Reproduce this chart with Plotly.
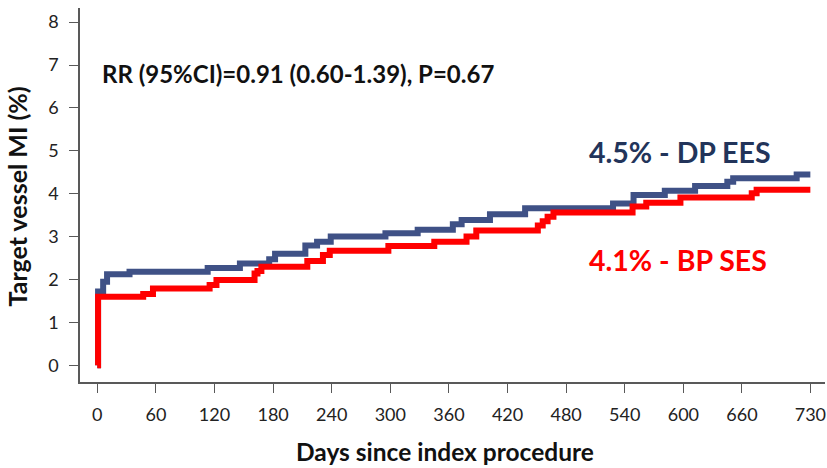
import plotly.graph_objects as go

# DP EES (blue) step data
dp_days = [0, 0.8, 6, 10, 33, 113, 146, 176, 182, 213, 225, 239, 295, 328, 364, 373, 402, 438, 528, 549, 581, 612, 645, 651, 716, 730]
dp_vals = [0, 1.72, 1.95, 2.12, 2.18, 2.27, 2.37, 2.47, 2.6, 2.79, 2.88, 3.0, 3.08, 3.16, 3.29, 3.39, 3.52, 3.66, 3.77, 3.97, 4.07, 4.18, 4.28, 4.36, 4.45, 4.45]

# BP SES (red) step data
bp_days = [0, 0.8, 47, 57, 115, 122, 161, 164, 168, 215, 231, 238, 298, 345, 378, 388, 451, 456, 461, 467, 548, 562, 597, 670, 675, 730]
bp_vals = [0, 1.6, 1.66, 1.79, 1.87, 1.99, 2.14, 2.2, 2.3, 2.43, 2.57, 2.67, 2.78, 2.88, 3.0, 3.14, 3.26, 3.36, 3.46, 3.56, 3.7, 3.79, 3.91, 4.01, 4.09, 4.09]

x_ticks = [0, 60, 120, 180, 240, 300, 360, 420, 480, 540, 600, 660, 730]
y_ticks = [0, 1, 2, 3, 4, 5, 6, 7, 8]

BLUE = "#3F5186"
NAVY = "#22345A"
RED = "#FF0000"
AXIS = "#595959"
FONT = "Lato"

fig = go.Figure()
fig.add_trace(go.Scatter(x=dp_days, y=dp_vals, mode="lines", line=dict(color=BLUE, width=6, shape="hv"),
                         name="DP EES", showlegend=False))
fig.add_trace(go.Scatter(x=bp_days, y=bp_vals, mode="lines", line=dict(color=RED, width=6, shape="hv"),
                         name="BP SES", showlegend=False))

fig.update_layout(
    width=827, height=468,
    margin=dict(l=80, r=2, t=8, b=86),
    paper_bgcolor="white", plot_bgcolor="white",
    font=dict(family=FONT, color="#222222", size=18),
    xaxis=dict(range=[-17.7, 745], tickvals=x_ticks, ticktext=[str(v) for v in x_ticks],
               showline=True, linecolor=AXIS, linewidth=1.5, ticks="outside", ticklen=9,
               tickcolor=AXIS, tickwidth=1.2, showgrid=False, zeroline=False,
               ticklabelstandoff=7, tickfont=dict(size=18, family=FONT, color="#222222")),
    yaxis=dict(range=[-0.39, 8.33], tickvals=y_ticks, showline=True, linecolor=AXIS, linewidth=1.5,
               ticks="outside", ticklen=9, tickcolor=AXIS, tickwidth=1.2, showgrid=False, zeroline=False,
               ticklabelstandoff=7, tickfont=dict(size=18, family=FONT, color="#222222")),
    annotations=[
        dict(text="<b>Target vessel MI (%)</b>", xref="paper", yref="paper", x=-0.084, y=0.497,
             textangle=-90, showarrow=False, font=dict(size=25, family=FONT, color="#111111"),
             xanchor="center", yanchor="middle"),
        dict(text="<b>Days since index procedure</b>", xref="paper", yref="paper", x=0.49, y=-0.187,
             showarrow=False, font=dict(size=24.5, family=FONT, color="#111111"),
             xanchor="center", yanchor="middle"),
        dict(text="<b>RR (95%CI)=0.91 (0.60-1.39), P=0.67</b>", xref="paper", yref="paper", x=0.0268, y=0.826,
             showarrow=False, font=dict(size=24, family=FONT, color="#111111"),
             xanchor="left", yanchor="middle"),
        dict(text="<b>4.5% - DP EES</b>", xref="paper", yref="paper", x=0.6805, y=0.615,
             showarrow=False, font=dict(size=28.5, family=FONT, color=NAVY),
             xanchor="left", yanchor="middle"),
        dict(text="<b>4.1% - BP SES</b>", xref="paper", yref="paper", x=0.6805, y=0.326,
             showarrow=False, font=dict(size=28.5, family=FONT, color=RED),
             xanchor="left", yanchor="middle"),
    ],
)

fig.write_html("out.html")
